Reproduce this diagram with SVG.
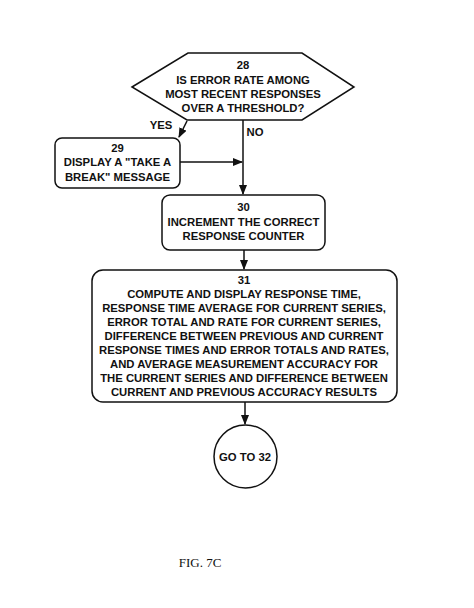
<svg xmlns="http://www.w3.org/2000/svg" width="474" height="608" viewBox="0 0 474 608">
<style>
.s{fill:none;stroke:#111;stroke-width:1.5}
.t{font-family:"Liberation Sans",Arial,sans-serif;font-weight:bold;font-size:11.3px;fill:#111;text-anchor:middle}
.c{stroke:#111;stroke-width:1.5;fill:none;marker-end:url(#ah)}
.f{font-family:"Liberation Serif","Times New Roman",serif;font-size:13px;fill:#111;text-anchor:middle}
</style>
<defs>
<marker id="ah" markerWidth="10" markerHeight="8" refX="9" refY="4" orient="auto" markerUnits="userSpaceOnUse">
<path d="M0,0 L10,4 L0,8 Z" fill="#111"/>
</marker>
</defs>
<rect width="474" height="608" fill="#fff"/>
<g id="connectors">
<line class="c" x1="187" y1="121" x2="179" y2="137"/>
<line class="c" x1="243" y1="120" x2="243" y2="194"/>
<line class="c" x1="180" y1="162" x2="242" y2="162"/>
<line class="c" x1="244" y1="250" x2="244" y2="269"/>
<line class="c" x1="245" y1="402" x2="245" y2="424"/>
<text class="t" x="161" y="129">YES</text>
<text class="t" x="255" y="136">NO</text>
</g>
<g id="n28">
<polygon class="s" points="132,87 188,53 302,53 354,87 302,120 187,120"/>
<text class="t" x="243" y="69">28</text>
<text class="t" x="243" y="84">IS ERROR RATE AMONG</text>
<text class="t" x="243" y="98">MOST RECENT RESPONSES</text>
<text class="t" x="243" y="112">OVER A THRESHOLD?</text>
</g>
<g id="n29">
<rect class="s" x="55" y="138" width="125" height="50" rx="7"/>
<text class="t" x="117.5" y="152">29</text>
<text class="t" x="117.5" y="166">DISPLAY A "TAKE A</text>
<text class="t" x="117.5" y="181">BREAK" MESSAGE</text>
</g>
<g id="n30">
<rect class="s" x="162" y="195" width="163" height="55" rx="8"/>
<text class="t" x="243.5" y="211">30</text>
<text class="t" x="243.5" y="226">INCREMENT THE CORRECT</text>
<text class="t" x="243.5" y="240">RESPONSE COUNTER</text>
</g>
<g id="n31">
<rect class="s" x="92" y="270" width="305" height="132" rx="11"/>
<text class="t" x="244" y="284">31</text>
<text class="t" x="244" y="298">COMPUTE AND DISPLAY RESPONSE TIME,</text>
<text class="t" x="244" y="312">RESPONSE TIME AVERAGE FOR CURRENT SERIES,</text>
<text class="t" x="244" y="326">ERROR TOTAL AND RATE FOR CURRENT SERIES,</text>
<text class="t" x="244" y="340">DIFFERENCE BETWEEN PREVIOUS AND CURRENT</text>
<text class="t" x="244" y="354">RESPONSE TIMES AND ERROR TOTALS AND RATES,</text>
<text class="t" x="244" y="368">AND AVERAGE MEASUREMENT ACCURACY FOR</text>
<text class="t" x="244" y="382">THE CURRENT SERIES AND DIFFERENCE BETWEEN</text>
<text class="t" x="244" y="396">CURRENT AND PREVIOUS ACCURACY RESULTS</text>
</g>
<g id="n32">
<circle class="s" cx="245.5" cy="456.5" r="31.5"/>
<text class="t" x="245" y="461">GO TO 32</text>
</g>
<text class="f" x="200" y="567">FIG. 7C</text>
</svg>
